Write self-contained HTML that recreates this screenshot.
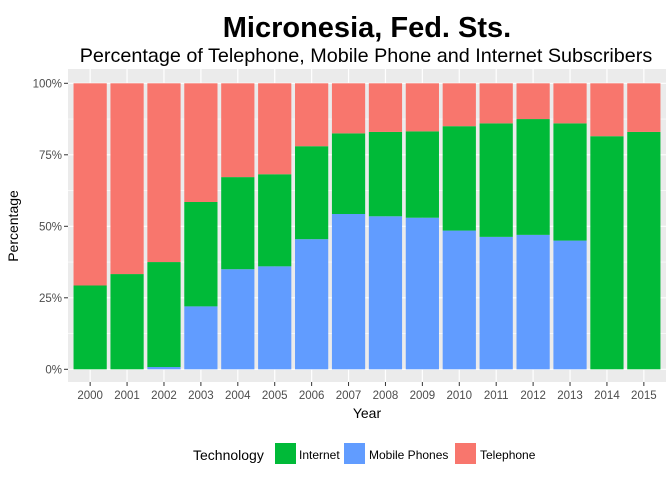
<!DOCTYPE html>
<html><head><meta charset="utf-8"><style>
body{margin:0;background:#fff;font-family:"Liberation Sans",sans-serif}
</style></head><body>
<svg id="c" width="672" height="480" xmlns="http://www.w3.org/2000/svg" font-family="Liberation Sans, sans-serif">
<text x="367" y="37" font-size="29" font-weight="bold" text-anchor="middle">Micronesia, Fed. Sts.</text>
<text x="366" y="62" font-size="19.8" text-anchor="middle">Percentage of Telephone, Mobile Phone and Internet Subscribers</text>
<rect x="68" y="69" width="598" height="313" fill="#ebebeb"/>
<g id="grid"></g><g id="bars"></g><g id="axes"></g>
<text x="367" y="418" font-size="14" text-anchor="middle">Year</text>
<text transform="translate(18,226) rotate(-90)" font-size="14" text-anchor="middle">Percentage</text>
<g>
<text x="193" y="460" font-size="14">Technology</text>
<rect x="275" y="443" width="21" height="21" fill="#00ba38"/>
<text x="299" y="459" font-size="12">Internet</text>
<rect x="344" y="443" width="21" height="21" fill="#619cff"/>
<text x="369" y="459" font-size="12">Mobile Phones</text>
<rect x="455" y="443" width="21" height="21" fill="#f8766d"/>
<text x="480" y="459" font-size="12">Telephone</text>
</g>
</svg>
<script>
const years=["2000","2001","2002","2003","2004","2005","2006","2007","2008","2009","2010","2011","2012","2013","2014","2015"];
const mobile=[0,0,0.8,22,35,36,45.5,54.3,53.5,53,48.5,46.3,47,45,0,0];
const internet=[29.3,33.3,36.7,36.5,32.2,32.2,32.5,28.2,29.5,30.2,36.5,39.7,40.5,41,81.5,83];
const telephone=[70.7,66.7,62.5,41.5,32.8,31.8,22,17.5,17,16.8,15,14,12.5,14,18.5,17];
const yTicks=[0,25,50,75,100];
const yTickLabels=["0%","25%","50%","75%","100%"];
const NS="http://www.w3.org/2000/svg";
const px0=68,pw=598,step=pw/(years.length-1+1.2),bw=step*0.9;
const x=i=>px0+step*(0.6+i);
const y=v=>369.3-v*2.86;
function mk(t,a,p){const e=document.createElementNS(NS,t);for(const k in a)e.setAttribute(k,a[k]);p.appendChild(e);return e;}
const g=document.getElementById('grid'),b=document.getElementById('bars'),ax=document.getElementById('axes');
for(let v=12.5;v<100;v+=25){const l=mk('line',{x1:68,x2:666,y1:y(v),y2:y(v),stroke:'#fff','stroke-width':0.6},g);

}
yTicks.forEach((v,i)=>{const l=mk('line',{x1:68,x2:666,y1:y(v),y2:y(v),stroke:'#fff','stroke-width':1.2},g);


const t=mk('line',{x1:64,x2:68,y1:y(v),y2:y(v),stroke:'#333'},ax);


const tx=mk('text',{x:62,y:y(v)+4,'font-size':11.5,'text-anchor':'end',fill:'#4d4d4d'},ax);tx.textContent=yTickLabels[i];

});
years.forEach((yr,i)=>{const cx=x(i);
const l=mk('line',{x1:cx,x2:cx,y1:69,y2:382,stroke:'#fff','stroke-width':1.2},g);


const segs=[[mobile[i],'#619cff','mobile'],[internet[i],'#00ba38','internet'],[telephone[i],'#f8766d','telephone']];
let acc=0;segs.forEach(s=>{if(s[0]>0){const r=mk('rect',{x:cx-bw/2,y:y(acc+s[0]),width:bw,height:y(acc)-y(acc+s[0]),fill:s[1]},b);

}acc+=s[0];});
const t=mk('line',{x1:cx,x2:cx,y1:382,y2:386,stroke:'#333'},ax);


const tx=mk('text',{x:cx,y:399,'font-size':11.5,'text-anchor':'middle',fill:'#4d4d4d'},ax);tx.textContent=yr;

});
</script>
</body></html>
